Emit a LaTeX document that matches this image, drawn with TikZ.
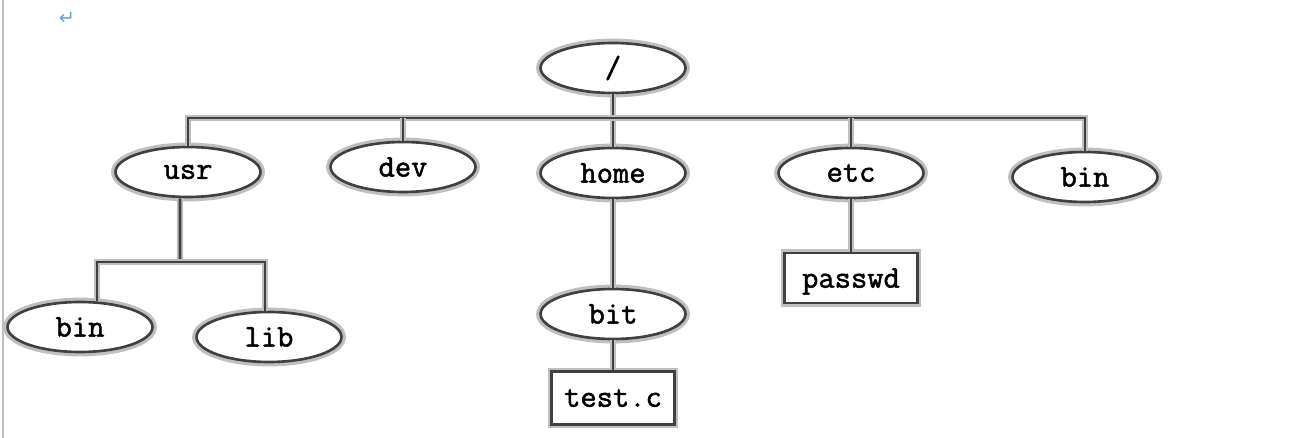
\documentclass[tikz,border=0pt]{standalone}
\usepackage{fontspec}
\newfontfamily\symfont{DejaVu Sans}
\newfontfamily\dirfont{Latin Modern Mono}[FakeBold=1.6]
\usetikzlibrary{shapes.geometric}
\colorlet{inkgray}{black!75}
\colorlet{smudge}{black!25}
\definecolor{markblue}{RGB}{110,160,225}
\tikzset{
  dirnode/.style={ellipse,draw=inkgray,line width=1.5pt,fill=white,
    preaction={draw=smudge,line width=5pt},
    minimum width=2.9cm,minimum height=1cm,inner sep=0pt,
    font=\dirfont\fontsize{18}{20}\selectfont},
  filenode/.style={rectangle,draw=inkgray,line width=1.5pt,fill=white,
    preaction={draw=smudge,line width=4.5pt},
    inner sep=0pt,text depth=-0.1cm,
    font=\dirfont\fontsize{18}{20}\selectfont},
  link/.style={draw=inkgray,line width=1.5pt,
    preaction={draw=smudge,line width=3.5pt}},
}

\begin{document}
\begin{tikzpicture}[x=0.02cm,y=-0.02cm]
  \useasboundingbox (0,0) rectangle (1304,438);
  \draw[black!25,line width=1.2pt] (3,0) -- (3,438);
  \node[text=markblue,font=\symfont\fontsize{11}{12}\selectfont] (mark) at (67,18) {↵};

  \node[dirnode] (root) at (613,68)  {/};
  \node[dirnode] (usr)  at (188,172) {usr};
  \node[dirnode] (dev)  at (403,167) {dev};
  \node[dirnode] (home) at (613,173) {home};
  \node[dirnode] (etc)  at (851,173) {etc};
  \node[dirnode] (binT) at (1085,177) {bin};
  \node[dirnode] (binL) at (80,327)  {bin};
  \node[dirnode] (lib)  at (269,337) {lib};
  \node[dirnode] (bit)  at (613,314) {bit};
  \node[filenode,minimum width=2.46cm,minimum height=1.06cm] (testc) at (613,398) {test.c};
  \node[filenode,minimum width=2.66cm,minimum height=1cm] (passwd) at (851,278) {passwd};

  % top level bus
  \coordinate (bus) at (613,118);
  \draw[link] (root.south) -- (home.north);
  \draw[link] (usr.north) |- (bus) -| (binT.north);
  \foreach \d in {dev,etc}
    \draw[link] (\d.north) -- (\d.north |- bus);

  % below usr
  \coordinate (usrbus) at (180,262);
  \draw[link] ([xshift=-0.16cm]usr.south) -- (usrbus);
  \draw[link] ([xshift=0.34cm]binL.north) |- (usrbus) -| ([xshift=-0.08cm]lib.north);

  \draw[link] (home.south) -- (bit.north);
  \draw[link] (bit.south) -- (testc.north);
  \draw[link] (etc.south) -- (passwd.north);
\end{tikzpicture}
\end{document}
